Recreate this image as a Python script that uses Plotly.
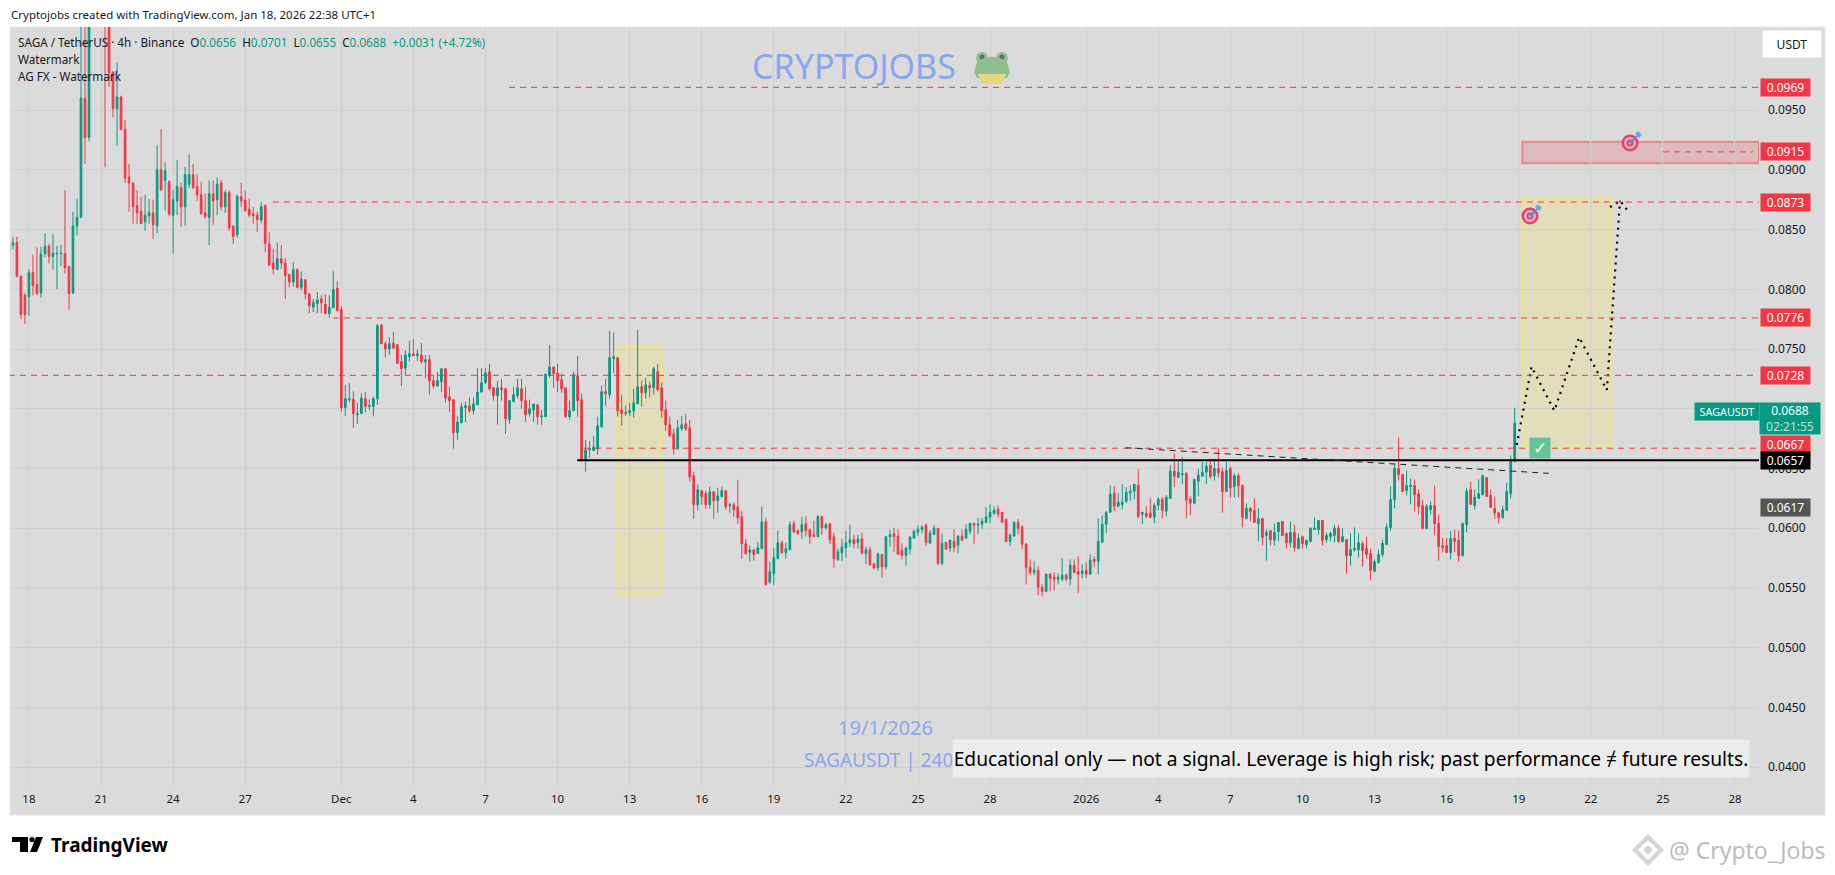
import pandas as pd
import plotly.graph_objects as go

# candle values, in ten-thousandths of a USDT
opens = [
    832,837,839,811,795,794,814,804,797,830,
    836,827.5,829.6,829.6,830,819,797,853,860,960,
    927,1040,1120,1180,1130,1050,982,951,961,934,
    894,889,870,865,856.5,861.5,864,853,900,891,
    890,862,874,885,869,888,896,886,879,864,
    860,880,875,889,869,881,853,845.6,877.5,874.7,
    867,863,862,858,870,838,822,816.6,825.6,822,
    812.5,806,816.4,801.6,808,796,785,788,792,787.7,
    779.6,784.6,801,783,701,707.6,708,695,696,708.4,
    702,702,708.4,770,754.5,750,755,753.6,739.4,734,
    743.6,746,744.4,745,739.4,741,723.5,719,722.7,733.5,
    710,707.6,680,688.3,701,702.6,698.4,703.4,714,721.8,
    731,717.6,711,717.6,716.8,691,706,711,716.8,706.8,
    696,699,703.4,693.4,693.4,728,735,730,724.3,717.6,
    693.4,698.4,727.7,707.6,657.4,665.7,665,666.6,685,714.3,
    711.8,742,742.7,699,696,696.7,698.4,704,718.5,713.5,
    719.3,717.6,731,717.6,699.2,686.7,679,666.6,683.3,687.5,
    684,644,619.7,631.4,629,619.7,630.6,623,626.4,631.4,
    618.9,619.7,618,609.7,587,579.5,582,578.7,582.9,605.5,
    555,562,574.5,587.9,579.5,582,603.8,598,597,603.8,
    598.8,594.6,593,609.7,600.5,603.8,593,573.7,579.5,583.7,
    587.9,590.4,587.9,591,578.7,582,570.3,567,577.9,567.8,
    593,595.4,593.4,581.6,577.5,582.5,591.7,596.7,599.2,602.6,
    587.5,595,600,570.8,588.3,583.3,589,585.8,593.4,591.7,
    597.5,604.2,602.6,603.4,605,609.3,612.6,616,613.4,607.6,
    589,593.4,605,601,586.7,567.4,563,564.9,550.7,547.3,
    561.6,559,557.4,557.4,560.7,557.4,569,564,562.4,564.9,
    561.6,574,572.4,588.3,603.4,613.4,629.4,618.5,620,622.7,
    629.4,631,636,611.8,612.6,612.6,609.3,619.3,624.3,614.3,
    625,647.8,642.7,645,646,624.3,621,639.4,643.6,647,
    652.6,644,650,647.5,630.8,650,635,644,635.8,608,
    616.6,614.9,604,608,594,598,590,597.3,605.7,595.7,
    588,596.5,583,593,586.4,589,599,599,606.5,590.6,
    593,594,600,589,590.6,577,582,582,587.3,583,
    579,563.9,571.4,578,586.4,600.7,624,650,645,631.6,
    635,635.8,629,619,599.8,615.7,619,604,585.6,585.6,
    579.8,591.5,589.8,577,603,632.5,619,625,628.3,642.5,
    627.5,616.6,613,609,615,629,656,
]
highs = [
    838,843.5,844,811.5,797,817,829,835,835.6,847,
    838,846,836.4,837,883,819,865,876,1040,1040,
    1060,1150,1210,1200,1140,1060,982,990,962,941.6,
    905,889,883,877.5,879,875.6,875,921,934,906,
    891,883,908,889,902.6,912.6,905,896,890,880,
    891,891,893.6,891.6,883,883,853,879.4,889,883,
    876,869,865,873,871,847.6,834,839,837,826,
    812.5,823,817.5,815,808.6,797,792,797.7,795,796,
    795,815,807,786,720,721.5,714.6,705,713,714,
    708,710,771,771,756.4,760,764.5,753.6,745,749,
    757,758.6,749.4,755,745,745,728.5,731,734,734,
    718.5,707.6,693.6,705,706,709.6,709.6,734,734,734,
    737.7,717.6,723.5,725,717.6,707.6,718.5,725,725,718.5,
    707.6,704,703.4,699,729,753.6,735,737.7,729.4,717.6,
    706.8,731,744.4,712.6,674,673,677.5,693.4,719.3,725,
    765.3,763.7,742.7,711.8,702.6,705,716.8,766,723.5,726,
    722.7,735,737.7,721.8,706.8,693.4,683.3,690.9,694,695.9,
    690.9,647.3,636.5,632.3,631.4,634.8,630.6,634,634.8,631.4,
    621.4,621.4,640.6,614.7,591,585.4,582,588.7,618,608.8,
    572,583.7,598,589.6,588,606,606.3,598.8,609.7,610.5,
    599.6,606.3,611.3,610.5,604.6,603.8,596.3,583,591,598,
    603,594.6,594.6,596.3,584.5,584.5,571,579.5,578.7,593.8,
    598.8,600.5,599,587.5,585,593.4,599,602.6,602.6,604.2,
    598.4,602.6,600,595.9,588.3,590.9,599,594.2,599,603.4,
    604.2,604.2,608.6,608.6,617.6,620,618.4,619.3,613.4,607.6,
    595.9,606,607.6,602.6,587.5,574,572.4,568.3,553.2,562.4,
    562.4,563.2,562.4,575,562.4,574,574,576.6,570,571.6,
    578.3,576.6,608.4,611,614.3,636,635.4,629.4,637,634.4,
    636,636.9,649.4,613.4,618.5,625,621,626,626,627.7,
    652.8,662.8,656,659.5,647,626.8,641,649.4,655.3,655.3,
    658.4,658.4,667.6,651,656,651.7,645.9,645.9,636.7,620.8,
    618,625,616.6,609,599,598,604,604.9,605.7,596.5,
    605.7,603,595.7,594,590.6,600.7,609,606.5,606.5,596.5,
    597.3,603,603,600,590.6,595.7,600.7,595.7,589,593,
    583,573.9,582,590.6,604,635,653.4,676,645,648.4,
    641.7,640.9,632.5,624,620,622.4,635.8,611.6,592,592,
    598,599,598,604.9,634,639,632.5,640.9,645,642.5,
    632.5,626.6,613,619,638,661,701,
]
lows = [
    832,833.5,810,775,771,778,795,795,793,827,
    821.6,816.6,800,819.5,813,783,796,845,860,905,
    924,1030,1100,1090,902,969.5,944,920,933,889,
    865,855,854.6,855,849,855,842,847,883,866,
    861,830,862,852,853,884.5,884,874,863,859,
    837,854,862,866,864,849,838,843,869,865,
    860,855,848,855,831,819,812.5,816,817,792,
    801.6,802,800.7,799,791.5,780,781,780,780,779.6,
    776,784,782,697.6,694,705.4,684,687.5,696,697,
    699,693.6,703.4,754.5,743,745,750,737.7,719,728.5,
    739.7,744,740,737.7,725.7,711.8,716.8,719,714,705,
    697.5,666.6,674,688,689,696.7,695,703.4,714,721,
    715,706.8,686.7,706.8,679,687.5,706,708.4,700,689,
    693.4,689,686.7,686.7,693.4,726,717.6,714,713.4,692.5,
    691,698.4,693.4,656,647.3,659,665,661.6,684,702.6,
    708.4,730,693.4,685.8,694,694,692.5,704,701.7,708.4,
    709.3,711.8,714.3,692.5,681.6,676.6,661.6,665.7,681.6,681.6,
    639,608,614.7,619.7,616.4,616.4,608,613,626.4,615.5,
    613,609.7,603.8,574.5,577.9,572,572.8,578.7,582.9,552.7,
    553.6,552.7,574.5,578.7,574.5,582,596,594.6,591,593,
    587,593,593,594.6,598.8,587,567,572.8,572.8,575.3,
    584.5,582.9,582.9,577.9,570,568.7,565.3,564.5,558.6,565.3,
    584.5,580,578.3,574,569,578.3,591.7,593.4,596,585,
    587.5,594.2,569,569,582.5,580,580,579,589,591.7,
    595,586.7,595,599.2,604.2,604.2,611,609.3,605,589,
    585,593.4,595,582.5,553,560.7,560.7,544,543,546.5,
    547.3,548,553,555.7,555.7,552.3,562.4,545.7,558.2,558.2,
    561.6,567.4,561.6,588.3,596,613.4,614.3,617.6,616,621,
    622.7,624.3,608.4,603.4,608.4,608.4,604.2,615,608.4,610,
    625,634.4,642,636.9,608.4,611,620,626.8,643.6,636.9,
    641.7,640,642.5,613,630.8,625.8,625.8,625.8,600.7,608,
    605.7,604.9,589,585.6,573,585.6,585.6,589,594,583,
    584,580.6,583,583,583,589,599,594.8,585.6,588,
    589,588,588,588,562,568.8,580.6,575.6,568,574.7,
    556.3,563.9,570.5,575.6,586.4,598,616.6,640,630.8,627.5,
    620,614,611.6,599,599,611.6,594,573,579.8,579.8,
    574,579.8,572,577,596.5,620,615.7,625,627.5,626.6,
    617.4,608,604,608,615,625,655,
]
closes = [
    837,839,811,779,779,814,803,796.5,829.5,836,
    827.5,830,830,830,818,796.5,853,860,960,927,
    1040,1120,1180,1130,1050,981,951.4,961,934,893,
    889,869,864,855,862,864,854,900,883,899,
    863,875,886,869,896,896,885,879,863,861,
    880,874,888,869,881,851.5,844,877.5,874,866,
    862,861.6,858.5,869,838.4,820.5,817,825.6,822,811.6,
    806,816.4,801.6,808.6,796,786,789,791,788.8,779.6,
    785,800,782,700.8,708.4,708.4,696,696,709,702,
    702.6,708.4,769.5,754.5,750,754.5,751,738,733.5,745,
    746,744.4,746,739.4,741,723.5,719,723.5,733.5,709,
    706.8,680,689,701.7,702.6,698.4,704,714,721.8,730,
    716.8,711,717.6,716,691.7,706.8,711.8,717.6,706.8,695,
    700,704,693.4,694,729,735,729.4,723.5,716.8,693.4,
    698.4,728.5,706.8,656.5,665.7,666.6,668,685.8,714.3,712.6,
    742.7,743.6,698.4,696,696.7,698.4,705,718.5,713.5,720,
    717.6,733.5,716,698.4,686.7,677.5,666.6,684,686.7,683.3,
    643,619.7,632.3,626.4,619.7,630.6,623,627.2,631.4,618,
    619.7,615.5,608.8,587,578.7,582,577.9,583.7,605.5,552.7,
    563.6,575.3,587.9,579.5,582.9,603,597,595.4,603,598,
    593,593,609.7,600.5,603,590.4,574.5,580.4,584.5,587.9,
    590.4,587,591,579.5,582,569.5,567,578.7,567.8,593,
    594.6,593,578.3,577.5,583.3,592.5,597.5,599.2,600.9,588.3,
    596,600,570.8,587.5,582.5,590,584,593.4,590,599.2,
    604.2,602.6,603.4,606,609.3,613.4,615,611.8,605,589,
    594.2,605,600,586.7,567.4,563,564.9,550.7,547.3,561.6,
    558.2,557.4,559,560.7,557.4,569,563,561.6,564,561.6,
    573.3,572.4,589,603.4,613.4,628.5,618.5,621.8,621.8,630,
    631,636.9,610,613.4,610,609.3,619.3,624.3,615,626,
    647.8,643.6,647,646,623.5,621,641,644.4,647,652,
    643.4,650,646.7,630.8,648.4,634,644,635.8,609,616.6,
    614,604.9,608,592.3,596.5,590.6,596.5,604.9,594,588,
    596.5,584,591.5,587.3,589.8,600,600,606.5,589.8,594,
    595.7,600,589,593,577,582,583,588,581.4,578,
    564.7,572,578,587.3,600.7,624,650,645,630.8,635.8,
    635.8,628.3,618.3,599.8,618.3,619,604,584.8,584,579.8,
    591.5,589,577,604,630.8,620,625.8,629,644,626.6,
    617.4,613,609,615.7,630.8,657.6,688,
]

y_tick_vals = [0.04, 0.045, 0.05, 0.055, 0.06, 0.065, 0.07, 0.075, 0.08, 0.085, 0.09, 0.095]
# 0.0700 sits behind the last price label, so its text is left out
y_tick_text = ["0.0400", "0.0450", "0.0500", "0.0550", "0.0600", "0.0650", "", "0.0750", "0.0800", "0.0850",
               "0.0900", "0.0950"]
x_tick_dates = ["2025-11-18", "2025-11-21", "2025-11-24", "2025-11-27", "2025-12-01", "2025-12-04",
                "2025-12-07", "2025-12-10", "2025-12-13", "2025-12-16", "2025-12-19", "2025-12-22",
                "2025-12-25", "2025-12-28", "2026-01-01", "2026-01-04", "2026-01-07", "2026-01-10",
                "2026-01-13", "2026-01-16", "2026-01-19", "2026-01-22", "2026-01-25", "2026-01-28"]
x_tick_text = ["18", "21", "24", "27", "Dec", "4", "7", "10", "13", "16", "19", "22", "25", "28",
               "2026", "4", "7", "10", "13", "16", "19", "22", "25", "28"]

# red levels: price, first bar, last bar
level_prices = [0.0969, 0.0915, 0.0873, 0.0776, 0.0728, 0.0667]
level_starts = [124.9, 413, 65.9, 80.9, 0, 143.6]
level_ends = [437, 435.5, 437, 437, 435.5, 437]

# projected path drawn on the chart (bar number, price)
path_bars = [376.5, 380.2, 385.9, 392.1, 399, 402.3]
path_prices = [0.06697, 0.07352, 0.06984, 0.07598, 0.07157, 0.08741]
head_bars = [399.8, 402.3, 404.3]
head_prices = [0.08688, 0.08741, 0.08655]

GREEN = "#089981"
RED = "#F23645"
PANEL = "#DBDBDB"
GRID = "#D1D1D1"
FONT = "Noto Sans"
WIDTH, HEIGHT = 1835, 875

start = pd.Timestamp("2025-11-17 05:00")


def bar_time(i):
    return start + pd.Timedelta(hours=4 * i)


def px(x):
    return x / WIDTH


def py(y):
    return 1 - y / HEIGHT


times = [bar_time(i) for i in range(len(opens))]
if not len(opens) == len(highs) == len(lows) == len(closes) == 377:
    raise ValueError(f"{len(opens)} {len(highs)} {len(lows)} {len(closes)}")

fig = go.Figure()
fig.add_trace(go.Candlestick(
    x=times,
    open=[v / 10000 for v in opens],
    high=[v / 10000 for v in highs],
    low=[v / 10000 for v in lows],
    close=[v / 10000 for v in closes],
    increasing=dict(line=dict(color=GREEN, width=1), fillcolor=GREEN),
    decreasing=dict(line=dict(color=RED, width=1), fillcolor=RED),
    whiskerwidth=0,
))
for bars, prices in [(path_bars, path_prices), (head_bars, head_prices)]:
    fig.add_trace(go.Scatter(
        x=[bar_time(b) for b in bars], y=prices, mode="lines",
        line=dict(color="#000000", width=2.2, dash="2px,5px"),
    ))

shapes = []


def panel_rect(x0, y0, x1, y1, **kw):
    shapes.append(dict(type="rect", xref="paper", yref="paper", x0=px(x0), x1=px(x1), y0=py(y0), y1=py(y1), **kw))


def data_rect(b0, b1, p0, p1, fill, border, width=2):
    shapes.append(dict(type="rect", xref="x", yref="y", x0=bar_time(b0), x1=bar_time(b1), y0=p0, y1=p1,
                       fillcolor=fill, line=dict(color=border, width=width), layer="below"))


def circle(cx, cy, r, color):
    shapes.append(dict(type="circle", xref="paper", yref="paper", x0=px(cx - r), x1=px(cx + r),
                       y0=py(cy + r), y1=py(cy - r), fillcolor=color, line=dict(width=0)))


def poly(points, color):
    d = "M " + " L ".join(f"{px(x)},{py(y)}" for x, y in points) + " Z"
    shapes.append(dict(type="path", xref="paper", yref="paper", path=d, fillcolor=color, line=dict(width=0)))


def target(cx, cy):
    circle(cx, cy, 8.5, "#E8416B")
    circle(cx, cy, 6, "#DDB4C0")
    circle(cx, cy, 3.5, "#E8416B")
    circle(cx, cy, 1.5, "#DDB4C0")
    poly([(cx - 1, cy - 1), (cx + 7, cy - 8), (cx + 8, cy - 7), (cx + 1, cy + 1)], "#5B8FD9")
    poly([(cx + 5, cy - 9), (cx + 8, cy - 12), (cx + 12, cy - 8), (cx + 9, cy - 5)], "#6FA6E8")


panel_rect(10, 27, 1825, 815, fillcolor=PANEL, line=dict(color="#E8E8E8", width=1), layer="below")
data_rect(151.9, 163.1, 0.0753, 0.0544, "rgba(255,235,59,0.2)", "rgba(255,235,59,0.45)")
data_rect(377.9, 400.1, 0.08766, 0.06677, "rgba(255,235,59,0.2)", "rgba(255,235,59,0.45)")
data_rect(377.9, 437, 0.09235, 0.09054, "rgba(242,54,69,0.2)", "rgba(242,54,69,0.45)")

for price, b0, b1 in zip(level_prices, level_starts, level_ends):
    shapes.append(dict(type="line", xref="x", yref="y", x0=bar_time(b0), x1=bar_time(b1), y0=price, y1=price,
                       line=dict(color=RED, width=1, dash="6px,5px")))
shapes.append(dict(type="line", xref="x", yref="y", x0=bar_time(141.9), x1=bar_time(437), y0=0.0657, y1=0.0657,
                   line=dict(color="#000000", width=2)))
shapes.append(dict(type="line", xref="x", yref="y", x0=bar_time(278.9), x1=bar_time(384.5), y0=0.06674, y1=0.0646,
                   line=dict(color="#222222", width=1, dash="6px,5px")))

target(1630, 143)
target(1530, 216)

# frog next to the watermark
circle(982, 58, 6, "#8FBF8F")
circle(1002, 58, 6, "#8FBF8F")
circle(982, 57, 2.5, "#5C6E62")
circle(1002, 57, 2.5, "#5C6E62")
poly([(977, 62), (986, 57), (998, 57), (1007, 62), (1010, 72), (1007, 78), (977, 78), (974, 72)], "#8FBF8F")
poly([(978, 74), (1006, 74), (1002, 84), (982, 84)], "#E6D67C")

# TradingView mark
poly([(12, 837), (28, 837), (28, 852), (20, 852), (20, 842), (12, 842)], "#000000")
circle(32, 839.5, 2.6, "#000000")
poly([(36, 837), (43, 837), (37, 852), (30, 852)], "#000000")

# mark next to the Crypto_Jobs credit
poly([(1648, 834), (1664, 850), (1648, 866), (1632, 850)], "#D4D4D4")
poly([(1648, 840), (1658, 850), (1648, 860), (1638, 850)], "#FFFFFF")
poly([(1648, 845), (1653, 850), (1648, 855), (1643, 850)], "#D4D4D4")

notes = []


def label(x, y, text, size=12, color="#131722", anchor="left", font=FONT, **kw):
    notes.append(dict(xref="paper", yref="paper", x=px(x), y=py(y), text=text, showarrow=False,
                      xanchor=anchor, yanchor="middle", font=dict(family=font, size=size, color=color), **kw))


def chip(price, text, fill, yshift=0):
    notes.append(dict(xref="paper", yref="y", x=px(1760), y=price, text=text, showarrow=False, xanchor="left",
                      yanchor="middle", yshift=yshift, width=49, height=17, bgcolor=fill, borderpad=0,
                      font=dict(family=FONT, size=12, color="#FFFFFF")))


label(9, 15, "Cryptojobs created with TradingView.com, Jan 18, 2026 22:38 UTC+1", size=11.5)
span = '<span style="color:#089981">'
label(16, 42, f"SAGA / TetherUS · 4h · Binance  O{span}0.0656</span>  H{span}0.0701</span>  L{span}0.0655</span>"
              f"  C{span}0.0688</span>  {span}+0.0031 (+4.72%)</span>", size=11.7)
label(16, 59, "Watermark", size=11.7)
label(16, 76, "AG FX - Watermark", size=11.7)
label(750, 66, "CRYPTOJOBS", size=34, color="#8CA6EC")
label(885, 727, "19/1/2026", size=20, color="#8CA6EC", anchor="center")
label(802, 760, "SAGAUSDT | 240", size=19, color="#8CA6EC")
label(1351, 758.5, "Educational only — not a signal. Leverage is high risk; past performance ≠ future results.",
      size=19.2, color="#000000", anchor="center", width=796, height=37, bgcolor="#ECECEC", borderpad=0)
label(49, 845, "<b>TradingView</b>", size=19, color="#000000")
label(1667, 850, "@ Crypto_Jobs", size=23, color="#BDBDBD")

label(1792, 44, "USDT", size=12, anchor="center", width=58, height=26, bgcolor="#FFFFFF",
      bordercolor="#EEEEEE", borderwidth=1, borderpad=0)
for p, t in zip(level_prices[:5], ["0.0969", "0.0915", "0.0873", "0.0776", "0.0728"]):
    chip(p, t, RED)
chip(0.0667, "0.0667", RED, yshift=4)
chip(0.0657, "0.0657", "#000000")
chip(0.0617, "0.0617", "#555555")
label(1727, 411.5, "SAGAUSDT", size=10.8, color="#FFFFFF", anchor="center", width=64, height=17, bgcolor=GREEN, borderpad=0)
label(1790, 418.5, '0.0688<br><span style="color:#B8E2D8">02:21:55</span>', size=12, color="#FFFFFF",
      anchor="center", width=60, height=31, bgcolor=GREEN, borderpad=0)
label(1540, 448, "<b>✓</b>", size=17, color="#FFFFFF", anchor="center", font="DejaVu Sans", width=20, height=20,
      bgcolor="#62C49B", borderpad=0)

fig.update_layout(
    width=WIDTH,
    height=HEIGHT,
    showlegend=False,
    margin=dict(l=0, r=0, t=0, b=0),
    paper_bgcolor="#FFFFFF",
    plot_bgcolor=PANEL,
    boxgap=0.4,
    shapes=shapes,
    annotations=notes,
    xaxis=dict(
        type="date",
        domain=[px(10), px(1759)],
        range=[bar_time(0.27), bar_time(437)],
        rangeslider=dict(visible=False),
        tickmode="array",
        tickvals=[pd.Timestamp(d) + pd.Timedelta(hours=1) for d in x_tick_dates],
        ticktext=x_tick_text,
        ticks="",
        showgrid=True,
        gridcolor=GRID,
        gridwidth=1,
        showline=False,
        zeroline=False,
        tickfont=dict(family=FONT, size=11.5, color="#131722"),
        ticklabelstandoff=3,
    ),
    yaxis=dict(
        domain=[py(787), py(27)],
        range=[0.03835, 0.10195],
        side="right",
        tickmode="array",
        tickvals=y_tick_vals,
        ticktext=y_tick_text,
        ticks="",
        showgrid=True,
        gridcolor=GRID,
        gridwidth=1,
        showline=False,
        zeroline=False,
        tickfont=dict(family=FONT, size=12, color="#131722"),
        ticklabelstandoff=8,
    ),
)

fig.write_html("out.html", config={"displayModeBar": False},
               post_script="document.body.style.margin='0';document.body.style.overflow='hidden';")
